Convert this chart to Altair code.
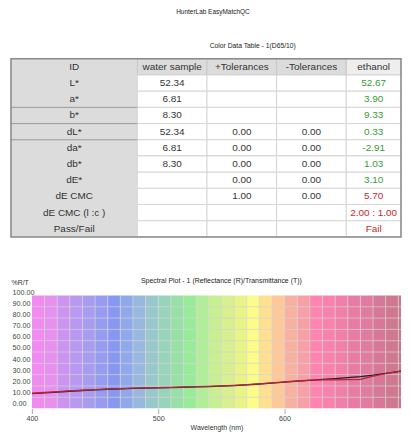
import altair as alt
import pandas as pd

# ---------------- data ----------------
REPORT_TITLE = "HunterLab EasyMatchQC"
TABLE_TITLE = "Color Data Table - 1(D65/10)"
PLOT_TITLE = "Spectral Plot - 1 (Reflectance (R)/Transmittance (T))"

TABLE_COLUMNS = ["ID", "water sample", "+Tolerances", "-Tolerances", "ethanol"]
ROW_LABELS = ["L*", "a*", "b*", "dL*", "da*", "db*", "dE*", "dE CMC", "dE CMC (l :c )", "Pass/Fail"]
WATER_SAMPLE = ["52.34", "6.81", "8.30", "52.34", "6.81", "8.30", "", "", "", ""]
PLUS_TOL = ["", "", "", "0.00", "0.00", "0.00", "0.00", "1.00", "", ""]
MINUS_TOL = ["", "", "", "0.00", "0.00", "0.00", "0.00", "0.00", "", ""]
ETHANOL = ["52.67", "3.90", "9.33", "0.33", "-2.91", "1.03", "3.10", "5.70", "2.00 : 1.00", "Fail"]
ETHANOL_PASS = [True, True, True, True, True, True, True, False, False, False]
ID_SEPARATOR_ROWS = ["b*", "dL*", "da*"]

WAVELENGTHS = [400, 410, 420, 430, 440, 450, 460, 470, 480, 490, 500,
               510, 520, 530, 540, 550, 560, 570, 580, 590, 600,
               610, 620, 630, 640, 650, 660, 670, 680, 690, 700]
WATER_CURVE = [9.0, 9.7, 10.4, 11.1, 11.8, 12.4, 12.9, 13.3, 13.7, 13.9, 14.1,
               14.4, 14.7, 15.0, 15.3, 15.7, 16.2, 16.8, 17.6, 18.4, 19.3,
               20.1, 20.9, 21.7, 22.5, 23.3, 24.2, 25.5, 27.1, 28.8, 30.5]
ETHANOL_CURVE = [9.3, 10.0, 10.7, 11.4, 12.0, 12.6, 13.1, 13.5, 13.9, 14.1, 14.3,
                 14.6, 14.9, 15.2, 15.5, 15.9, 16.4, 17.0, 17.8, 18.6, 19.5,
                 20.3, 21.0, 21.3, 21.4, 21.5, 21.8, 24.6, 27.0, 28.9, 30.6]
BAND_COLORS = ["#f08cf0", "#e890f0", "#cc94f0", "#b898f0", "#a89cf0", "#989cf0",
               "#8898f0", "#90a8ec", "#98b8e0", "#98c8cc", "#98d4bc", "#98e0a8",
               "#98ec98", "#b0ee98", "#c8f090", "#d8f090", "#e8f488", "#fcfc88",
               "#ffe090", "#ffc898", "#f8b0a0", "#f8a0a8", "#ff84b0", "#f882ac",
               "#f080a8", "#e87ca4", "#e07ca0", "#d87898", "#d07890", "#c87888"]

# ---------------- layout / style ----------------
FONT = "Liberation Sans"
COL_EDGES = [0, 127, 197, 267, 337, 392]   # table column edges (px from table's left border)
LEFT_GUTTER = 21                            # table starts this far left of the plot area
TABLE_W, TABLE_H = COL_EDGES[-1] - LEFT_GUTTER, 179
PLOT_W, PLOT_H = 371, 117
X_MAX = 400 + PLOT_W / 1.27                 # visible wavelength window (right side cropped)
Y_LO, Y_HI = -4.4, 100
BAND_LO, BAND_HI = -4.4, 97
GREEN, RED, INK = "#3a9a3a", "#c8282d", "#333333"

row_order = ["ID"] + ROW_LABELS
col_values = {"water sample": WATER_SAMPLE, "+Tolerances": PLUS_TOL,
              "-Tolerances": MINUS_TOL, "ethanol": ETHANOL}

cells = []
for ci, col in enumerate(TABLE_COLUMNS):
    x0, x1 = COL_EDGES[ci], COL_EDGES[ci + 1]
    head_fill = "#eeeeee" if col == "ethanol" else "#dcdcdc"
    cells.append(dict(row="ID", x0=x0, x1=x1, xc=(x0 + x1) / 2, text=col,
                      fill=head_fill, stroke=head_fill if ci == 0 else "#c8c8c8", tcolor=INK))
    for ri, r in enumerate(ROW_LABELS):
        if ci == 0:
            cells.append(dict(row=r, x0=x0, x1=x1, xc=(x0 + x1) / 2, text=r,
                              fill="#dcdcdc", stroke="#dcdcdc", tcolor=INK))
        else:
            tc = INK
            if col == "ethanol":
                tc = GREEN if ETHANOL_PASS[ri] else RED
            cells.append(dict(row=r, x0=x0, x1=x1, xc=(x0 + x1) / 2,
                              text=col_values[col][ri], fill="#ffffff",
                              stroke="#d6d6d6", tcolor=tc))
cells_df = pd.DataFrame(cells)
sep_df = pd.DataFrame(dict(row=ID_SEPARATOR_ROWS, x0=COL_EDGES[0], x1=COL_EDGES[1]))
frame_df = pd.DataFrame(dict(x0=[COL_EDGES[0]], x1=[COL_EDGES[-1]], t=[0], b=[1]))

tx = alt.Scale(domain=[LEFT_GUTTER, COL_EDGES[-1]], nice=False, zero=False)
ty = alt.Scale(domain=row_order, paddingInner=0, paddingOuter=0)

rects = alt.Chart(cells_df).mark_rect(strokeWidth=1).encode(
    x=alt.X("x0:Q", scale=tx, axis=None), x2="x1:Q",
    y=alt.Y("row:N", scale=ty, axis=None),
    fill=alt.Fill("fill:N", scale=None),
    stroke=alt.Stroke("stroke:N", scale=None),
)
seps = alt.Chart(sep_df).mark_rule(color="#9a9a9a", strokeWidth=1).encode(
    x=alt.X("x0:Q", scale=tx, axis=None), x2="x1:Q",
    y=alt.Y("row:N", scale=ty, axis=None, bandPosition=0),
)
texts = alt.Chart(cells_df).mark_text(font=FONT, fontSize=10, baseline="middle").encode(
    x=alt.X("xc:Q", scale=tx, axis=None),
    y=alt.Y("row:N", scale=ty, axis=None),
    text="text:N",
    color=alt.Color("tcolor:N", scale=None),
)
frame = alt.Chart(frame_df).mark_rect(fillOpacity=0, stroke="#8a8a8a", strokeWidth=1.5).encode(
    x=alt.X("x0:Q", scale=tx, axis=None), x2="x1:Q",
    y=alt.Y("t:Q", scale=alt.Scale(domain=[0, 1], nice=False), axis=None), y2="b:Q",
)
table = alt.layer(alt.layer(rects, seps, texts), frame).resolve_scale(y="independent").properties(
    width=TABLE_W, height=TABLE_H,
    title=alt.TitleParams(TABLE_TITLE, font=FONT, fontSize=6.8, fontWeight="normal",
                          color="#222222", anchor="middle", frame="bounds",
                          offset=8.5, dx=47),
)

# spectral plot
bands_df = pd.DataFrame(dict(start=WAVELENGTHS[:-1], end=WAVELENGTHS[1:], color=BAND_COLORS,
                             lo=BAND_LO, hi=BAND_HI))
vgrid_df = pd.DataFrame(dict(wl=WAVELENGTHS[1:-1], lo=BAND_LO, hi=BAND_HI))
hgrid_df = pd.DataFrame(dict(v=[BAND_LO + k * (BAND_HI - BAND_LO) / 10 for k in range(1, 10)],
                             a=WAVELENGTHS[0], b=X_MAX))
curves_df = pd.concat([
    pd.DataFrame(dict(wl=WAVELENGTHS, v=WATER_CURVE, s="water sample")),
    pd.DataFrame(dict(wl=WAVELENGTHS, v=ETHANOL_CURVE, s="ethanol")),
])

xs = alt.Scale(domain=[WAVELENGTHS[0], X_MAX], nice=False, zero=False)
ys = alt.Scale(domain=[Y_LO, Y_HI], nice=False, zero=False)
x_axis = alt.Axis(values=[400, 500, 600], format="d", labelFont=FONT, labelFontSize=7.2,
                  labelColor="#444444", labelFlush=False, labelOverlap=False,
                  tickSize=5, tickColor="#aaaaaa",
                  labelPadding=1.5, domain=False, grid=False,
                  title="Wavelength (nm)", titleFont=FONT, titleFontSize=7,
                  titleFontWeight="normal", titleColor="#333333", titlePadding=1)
y_axis = alt.Axis(values=[0, 10, 20, 30, 40, 50, 60, 70, 80, 90, 100], format=".2f",
                  labelFont=FONT, labelFontSize=7.3, labelColor="#444444",
                  labelAlign="left", labelBaseline="middle", labelPadding=20,
                  labelOverlap=False, labelBound=False, labelFlush=False,
                  ticks=False, tickSize=0, domain=False, grid=False,
                  title="%R/T", titleFont=FONT, titleFontSize=7, titleFontWeight="normal",
                  titleColor="#333333", titleAngle=0, titleAlign="left",
                  titleBaseline="middle", titleX=-LEFT_GUTTER, titleY=-10)

bands = alt.Chart(bands_df).mark_rect(clip=True).encode(
    x=alt.X("start:Q", scale=xs, axis=x_axis), x2="end:Q",
    y=alt.Y("lo:Q", scale=ys, axis=y_axis), y2="hi:Q",
    fill=alt.Fill("color:N", scale=None),
)
vgrid = alt.Chart(vgrid_df).mark_rule(color="#d4d4d4", opacity=0.7, strokeWidth=1, clip=True).encode(
    x=alt.X("wl:Q", scale=xs, axis=x_axis), y=alt.Y("lo:Q", scale=ys, axis=y_axis), y2="hi:Q",
)
hgrid = alt.Chart(hgrid_df).mark_rule(color="#d4d4d4", opacity=0.7, strokeWidth=1).encode(
    y=alt.Y("v:Q", scale=ys, axis=y_axis), x=alt.X("a:Q", scale=xs, axis=x_axis), x2="b:Q",
)
curves = alt.Chart(curves_df).mark_line(strokeWidth=1.3, clip=True).encode(
    x=alt.X("wl:Q", scale=xs, axis=x_axis), y=alt.Y("v:Q", scale=ys, axis=y_axis),
    color=alt.Color("s:N", scale=alt.Scale(domain=["water sample", "ethanol"],
                                           range=["#2a1a2a", "#b02838"]), legend=None),
)
plot = alt.layer(bands, vgrid, hgrid, curves).properties(
    width=PLOT_W, height=PLOT_H,
    title=alt.TitleParams(PLOT_TITLE, font=FONT, fontSize=7, fontWeight="normal",
                          color="#222222", anchor="middle", frame="group",
                          offset=-6, dx=5),
)

chart = alt.vconcat(table, plot, spacing=39.5).properties(
    title=alt.TitleParams(REPORT_TITLE, font=FONT, fontSize=6.5, fontWeight="normal",
                          color="#222222", anchor="middle", offset=27, dx=7),
    padding={"left": 2, "top": 0, "right": 0, "bottom": 0},
).configure_view(strokeWidth=0).configure_axis(labelOverlap=False)

chart.save("out.html", embed_options={"renderer": "svg", "actions": False})
